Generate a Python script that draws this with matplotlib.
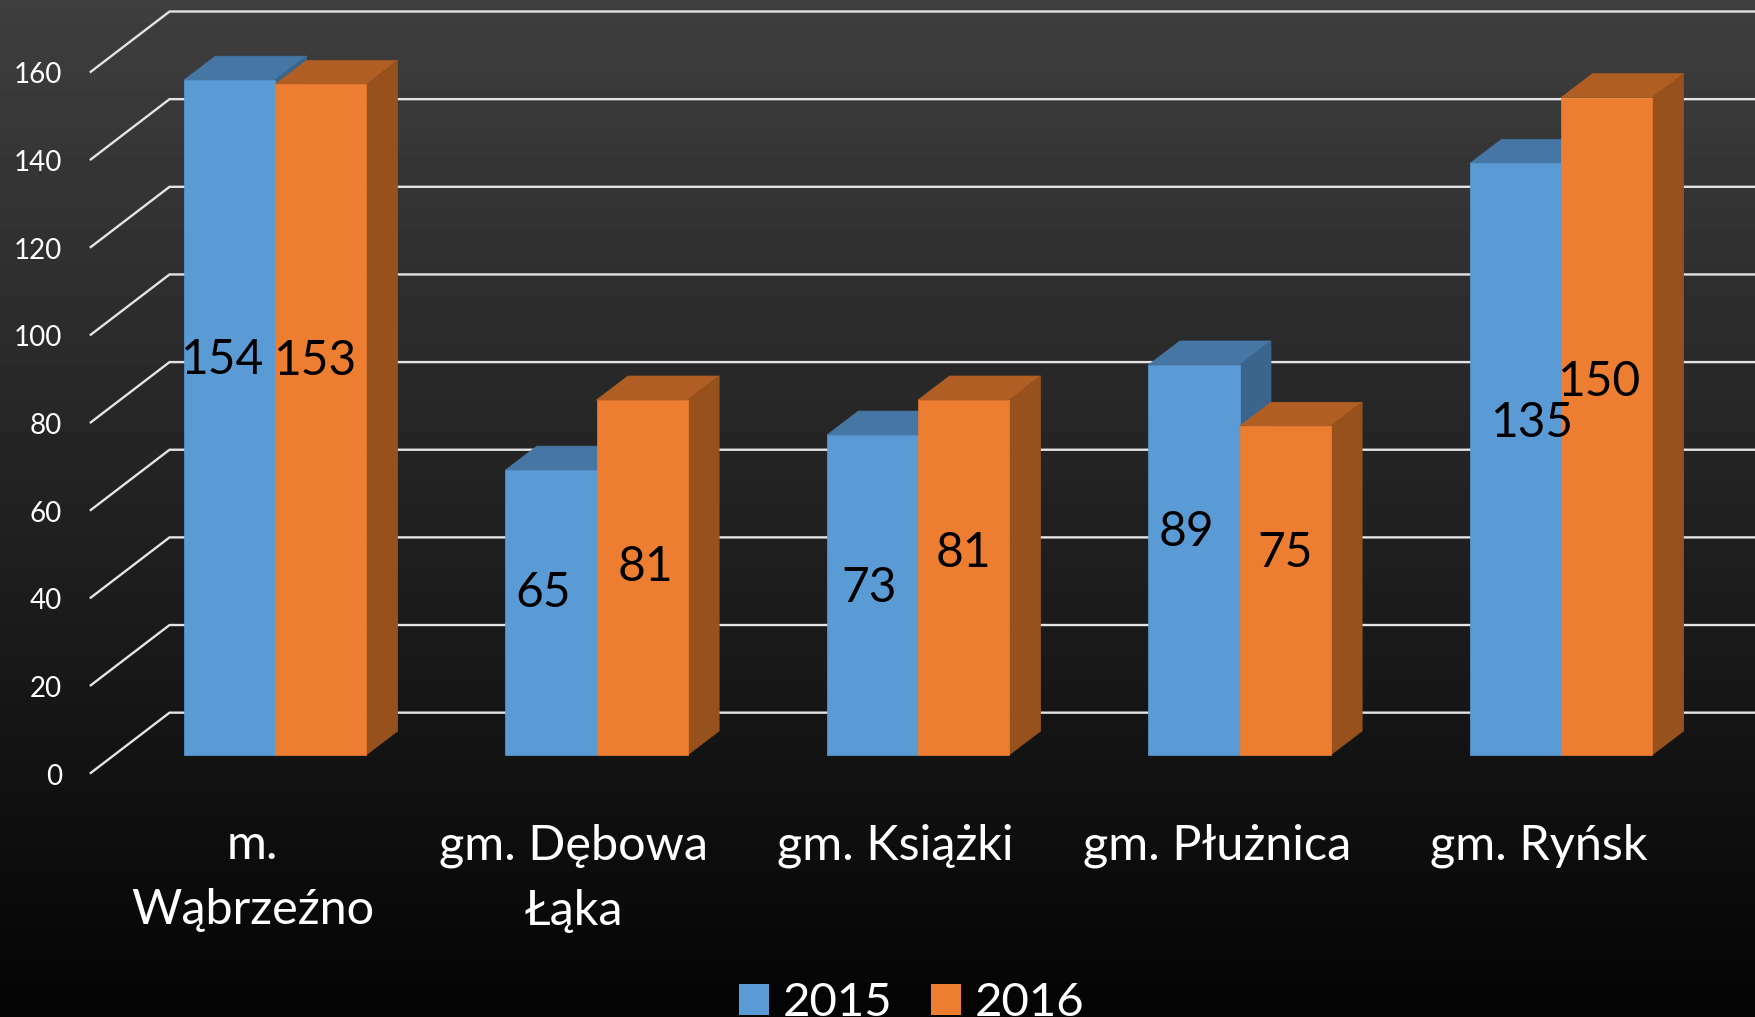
import numpy as np
import matplotlib.pyplot as plt
from matplotlib.patches import Patch, Polygon

plt.rcParams['font.family'] = ['Lato', 'DejaVu Sans']

# Dane z wykresu
gminy = ['m.\nWąbrzeźno', 'gm. Dębowa\nŁąka', 'gm. Książki', 'gm. Płużnica', 'gm. Ryńsk']
wartosci_2015 = [154, 65, 73, 89, 135]
wartosci_2016 = [153, 81, 81, 75, 150]
poziomy_siatki = [0, 20, 40, 60, 80, 100, 120, 140, 160]

# Przesunięcia etykiet wartości względem środka słupka (kategorie, wartości)
etykiety_dx_2015 = [-0.024, -0.024, -0.010, -0.024, 0.049]
etykiety_dx_2016 = [-0.017, 0.010, 0.0, 0.0, -0.024]
etykiety_dy_2015 = [13.2, 4.5, 1.7, 6.5, 8.3]
etykiety_dy_2016 = [13.4, 2.4, 5.5, 8.5, 10.1]

# Kolory: przód, góra, bok
NIEBIESKI = ('#5B9BD5', '#4676A3', '#3B658C')
POMARANCZOWY = ('#ED7D31', '#B15E24', '#97511D')

SZER = 0.2835       # szerokość słupka
GLEB_X = 0.098      # głębokość słupka w poziomie
GLEB_Y = 5.47       # głębokość słupka w pionie
PODLOGA_Y = -4.1    # przód podłogi
SCIANA_Y = 9.65     # tylna ściana
PODLOGA_X = -0.573
SCIANA_X = -0.328
XMIN, XMAX = -275 / 321.5, (1755 - 275) / 321.5
YMIN, YMAX = -59.8, 172.3

fig = plt.figure(figsize=(17.55, 10.171), dpi=100)
ax = fig.add_axes([0, 0, 1, 1])
ax.set_xlim(XMIN, XMAX)
ax.set_ylim(YMIN, YMAX)
ax.axis('off')

# Tło z gradientem
gradient = np.linspace(0.247, 0.016, 256).reshape(-1, 1)
ax.imshow(gradient, cmap='gray', vmin=0, vmax=1, aspect='auto', origin='upper',
          extent=[XMIN, XMAX, YMIN, YMAX], zorder=0)

# Siatka i podpisy osi
for v in poziomy_siatki:
    ax.plot([PODLOGA_X, SCIANA_X, XMAX], [v + PODLOGA_Y, v + SCIANA_Y, v + SCIANA_Y],
            color='#e4e4e4', lw=1.7, solid_joinstyle='miter', zorder=1)
    ax.text(PODLOGA_X - 0.09, v + PODLOGA_Y - 0.8, str(v), color='white', fontsize=20,
            ha='right', va='center', zorder=5)


def rysuj_slupek(x, v, kolory):
    przod = [(x, 0), (x + SZER, 0), (x + SZER, v), (x, v)]
    gora = [(x, v), (x + SZER, v), (x + SZER + GLEB_X, v + GLEB_Y), (x + GLEB_X, v + GLEB_Y)]
    bok = [(x + SZER, 0), (x + SZER + GLEB_X, GLEB_Y), (x + SZER + GLEB_X, v + GLEB_Y), (x + SZER, v)]
    ax.add_patch(Polygon(gora, fc=kolory[1], ec=kolory[1], lw=0.5, zorder=2))
    ax.add_patch(Polygon(bok, fc=kolory[2], ec=kolory[2], lw=0.5, zorder=2))
    ax.add_patch(Polygon(przod, fc=kolory[0], ec=kolory[0], lw=0.5, zorder=2))


# Słupki
for i in range(len(gminy)):
    rysuj_slupek(i - SZER, wartosci_2015[i], NIEBIESKI)
    rysuj_slupek(i, wartosci_2016[i], POMARANCZOWY)

# Etykiety wartości
for i in range(len(gminy)):
    ax.text(i - SZER / 2 + etykiety_dx_2015[i], wartosci_2015[i] / 2 + etykiety_dy_2015[i],
            str(wartosci_2015[i]), color='black', fontsize=34.5, ha='center', va='center', zorder=5)
    ax.text(i + SZER / 2 + etykiety_dx_2016[i], wartosci_2016[i] / 2 + etykiety_dy_2016[i],
            str(wartosci_2016[i]), color='black', fontsize=34.5, ha='center', va='center', zorder=5)

# Nazwy gmin
for i, g in enumerate(gminy):
    ax.text(i - 0.07, -15.6, g, color='white', fontsize=35, ha='center', va='top',
            linespacing=1.58, zorder=5)

# Legenda
uchwyty = [Patch(fc=NIEBIESKI[0], ec='none', label='2015'),
           Patch(fc=POMARANCZOWY[0], ec='none', label='2016')]
leg = ax.legend(handles=uchwyty, ncol=2, frameon=False, fontsize=34, labelcolor='white',
                handlelength=0.635, handleheight=0.635, handletextpad=0.3, columnspacing=0.8,
                loc='lower center', bbox_to_anchor=(0.5195, -0.0067), borderpad=0, borderaxespad=0)
leg.set_zorder(5)

plt.savefig('out.png', dpi=100)
